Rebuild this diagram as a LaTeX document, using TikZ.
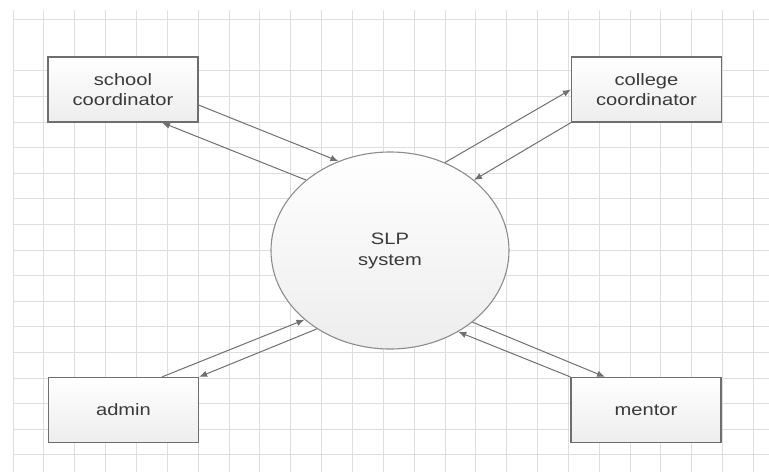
\documentclass[tikz,border=0pt]{standalone}
\usepackage{fontspec}
\setmainfont{Liberation Sans}[FakeStretch=1.22]
\usetikzlibrary{shapes.geometric,arrows.meta,calc}
\definecolor{gridgray}{HTML}{DEDEDE}
\definecolor{boxedge}{HTML}{6E6E6E}
\definecolor{ovaledge}{HTML}{8C8C8C}
\definecolor{linkgray}{HTML}{707070}
\definecolor{txt}{HTML}{3A3A3A}
\tikzset{
  entity/.style={rectangle, draw=boxedge, line width=1.2pt,
    top color=white, bottom color=black!7,
    minimum width=150pt, minimum height=65pt, inner sep=0pt,
    align=center, text=txt, font=\fontsize{16.5}{20}\selectfont},
  process/.style={ellipse, draw=ovaledge, line width=1.1pt,
    top color=white, bottom color=black!7,
    minimum width=238pt, minimum height=197pt, inner sep=0pt,
    align=center, text=txt, font=\fontsize{16.5}{21}\selectfont},
  flow/.style={draw=linkgray, line width=1pt,
    -{Latex[length=8pt,width=6.5pt]}},
  gridline/.style={draw=gridgray, line width=0.8pt}
}
\begin{document}
\begin{tikzpicture}[x=1pt,y=-1pt]
\useasboundingbox (0,0) rectangle (769,472);
\fill[white] (0,0) rectangle (769,472);

% background grid
\foreach \k in {0,...,24}
  \draw[gridline] ({13+30.85*\k},10) -- ({13+30.85*\k},472);
\foreach \k in {0,2,3,...,17}
  \draw[gridline] (13,{19.5+25.6*\k}) -- (769,{19.5+25.6*\k});

% external entities and the central process
\node[entity] (school)  at (123,89.5)  {school\\coordinator};
\node[entity] (college) at (646.5,89.5) {college\\coordinator};
\node[entity] (admin)   at (123.5,410) {admin};
\node[entity] (mentor)  at (646,410)   {mentor};
\node[process] (slp)    at (390,250.5) {SLP\\system};

% data flows
\draw[flow] ($(school.east)+(0,15.5)$) -- (slp.120.8);
\draw[flow] (slp.140.1) -- ($(school.south)+(39,0)$);

\draw[flow] (slp.58.1) -- (college.west);
\draw[flow] (college.south west) -- (slp.40.3);

\draw[flow] ($(admin.north)+(38.5,0)$) -- (slp.219.9);
\draw[flow] (slp.227.3) -- (admin.north east);

\draw[flow] (slp.319.1) -- ($(mentor.north)+(-41,0)$);
\draw[flow] (mentor.north west) -- (slp.310.7);
\end{tikzpicture}
\end{document}
